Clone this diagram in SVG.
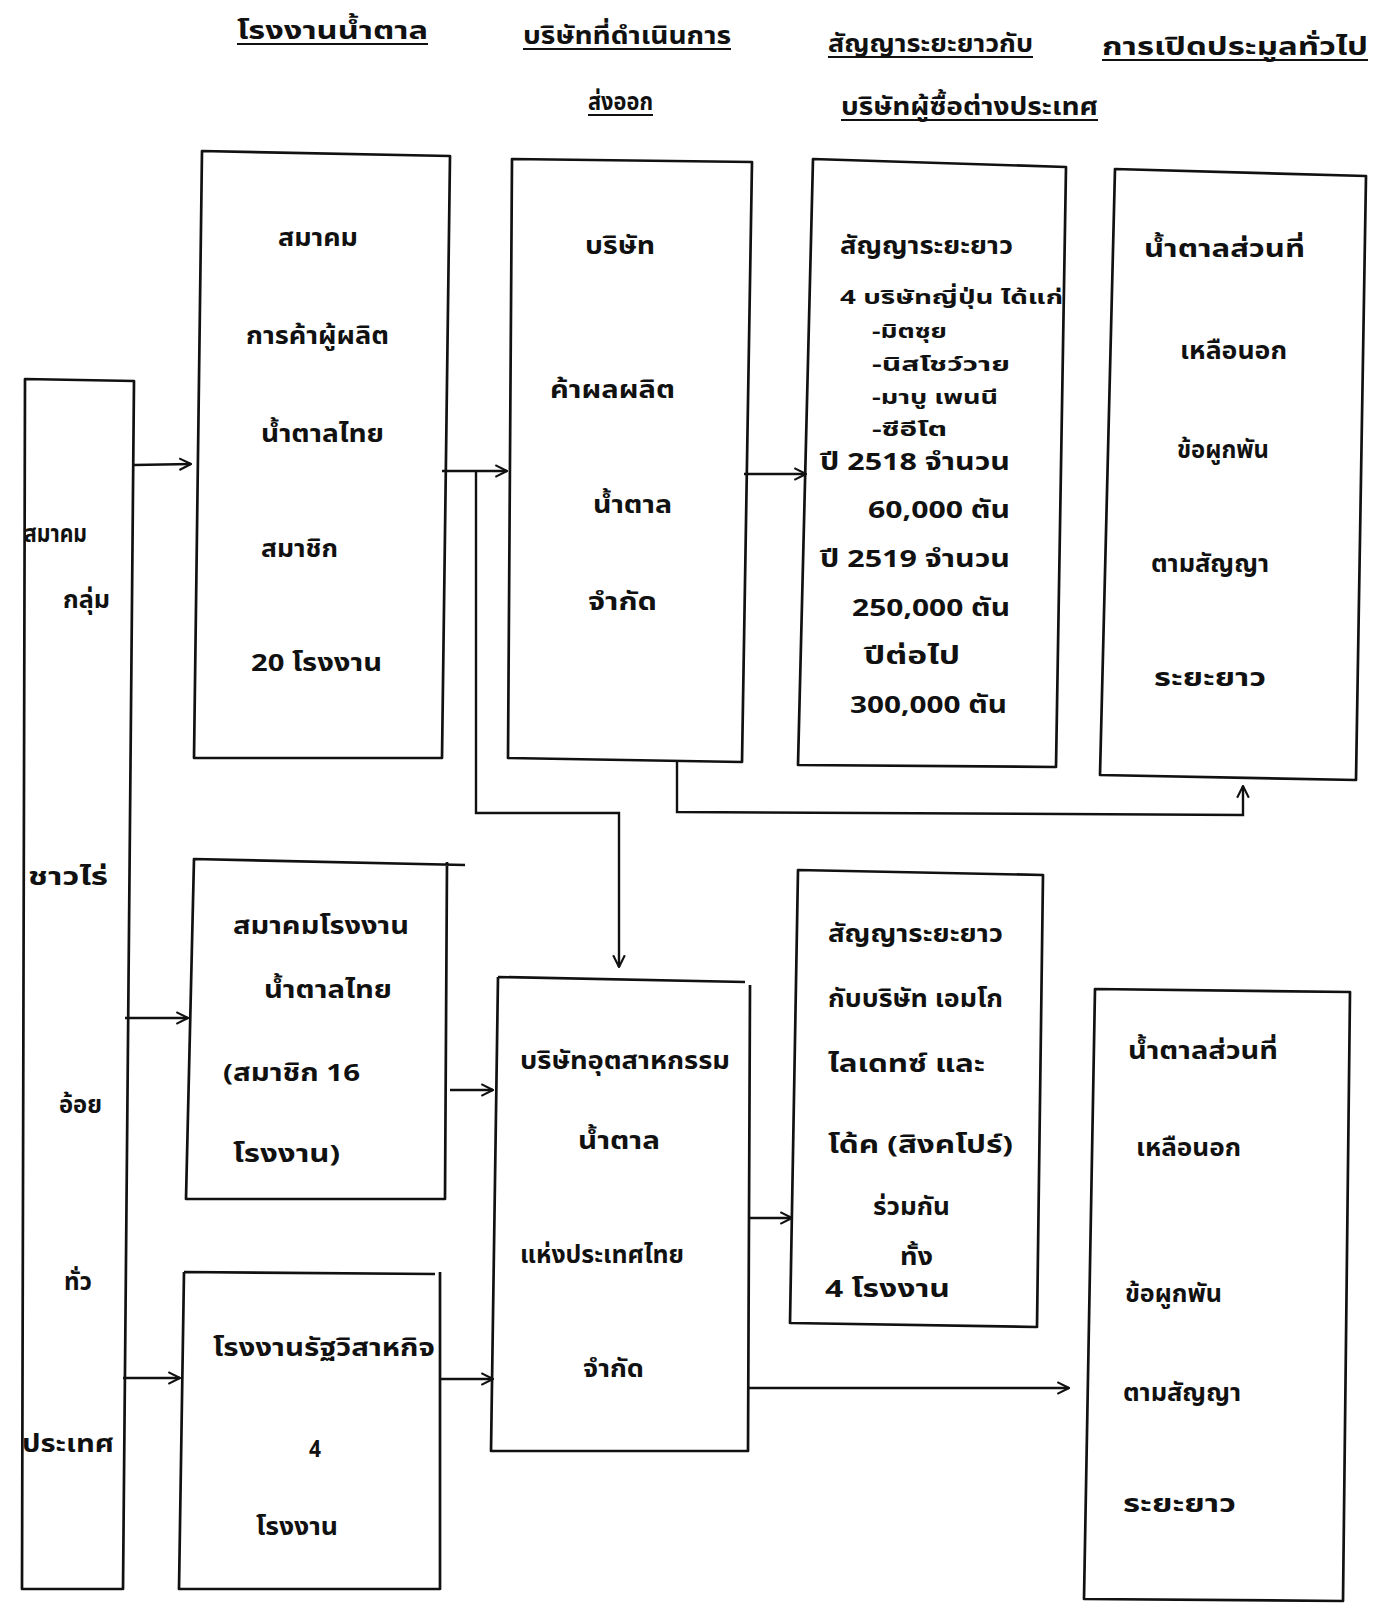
<svg xmlns="http://www.w3.org/2000/svg" width="1375" height="1604" viewBox="0 0 1375 1604">
<style>
.box{fill:none;stroke:#111;stroke-width:2.7;stroke-linejoin:round}
.ln{fill:none;stroke:#111;stroke-width:2.4}
.t{font-family:"Noto Sans Thai","Noto Sans","DejaVu Sans",sans-serif;font-size:24px;font-weight:bold;fill:#111}
.s{font-size:20px}
.h{font-family:"Noto Sans Thai","Noto Sans","DejaVu Sans",sans-serif;font-size:25px;font-weight:bold;fill:#111}
.u{stroke:#111;stroke-width:2.2}
</style>
<defs>
<marker id="arr" viewBox="0 0 12 12" refX="11" refY="6" markerWidth="14" markerHeight="14" markerUnits="userSpaceOnUse" orient="auto">
<path d="M1,1 L11,6 L1,11" fill="none" stroke="#111" stroke-width="1.8"/>
</marker>
</defs>
<rect width="1375" height="1604" fill="#fff"/>

<g id="headers">
<text class="h" x="237" y="39" textLength="191" lengthAdjust="spacingAndGlyphs">โรงงานน้ำตาล</text>
<line class="u" x1="237" y1="44" x2="428" y2="44"/>
<text class="h" x="523" y="44" textLength="208" lengthAdjust="spacingAndGlyphs">บริษัทที่ดำเนินการ</text>
<line class="u" x1="523" y1="49" x2="731" y2="49"/>
<text class="h" x="588" y="110" textLength="65" lengthAdjust="spacingAndGlyphs">ส่งออก</text>
<line class="u" x1="588" y1="115" x2="653" y2="115"/>
<text class="h" x="828" y="52" textLength="205" lengthAdjust="spacingAndGlyphs">สัญญาระยะยาวกับ</text>
<line class="u" x1="828" y1="57" x2="1033" y2="57"/>
<text class="h" x="841" y="115" textLength="257" lengthAdjust="spacingAndGlyphs">บริษัทผู้ซื้อต่างประเทศ</text>
<line class="u" x1="841" y1="120" x2="1098" y2="120"/>
<text class="h" x="1102" y="55" textLength="266" lengthAdjust="spacingAndGlyphs">การเปิดประมูลทั่วไป</text>
<line class="u" x1="1102" y1="60" x2="1368" y2="60"/>
</g>

<g id="node-farmers">
<path class="box" d="M25,379 L134,381 L123,1589 L22,1589 Z"/>
<text class="t" x="24" y="542" textLength="63" lengthAdjust="spacingAndGlyphs">สมาคม</text>
<text class="t" x="63" y="608" textLength="47" lengthAdjust="spacingAndGlyphs">กลุ่ม</text>
<text class="t" x="28" y="885" textLength="80" lengthAdjust="spacingAndGlyphs">ชาวไร่</text>
<text class="t" x="59" y="1113" textLength="43" lengthAdjust="spacingAndGlyphs">อ้อย</text>
<text class="t" x="64" y="1290" textLength="28" lengthAdjust="spacingAndGlyphs">ทั่ว</text>
<text class="t" x="22" y="1452" textLength="92" lengthAdjust="spacingAndGlyphs">ประเทศ</text>
</g>

<g id="node-trade-assoc">
<path class="box" d="M202,151 L450,156 L442,758 L194,758 Z"/>
<text class="t" x="278" y="246" textLength="80" lengthAdjust="spacingAndGlyphs">สมาคม</text>
<text class="t" x="246" y="344" textLength="143" lengthAdjust="spacingAndGlyphs">การค้าผู้ผลิต</text>
<text class="t" x="261" y="442" textLength="123" lengthAdjust="spacingAndGlyphs">น้ำตาลไทย</text>
<text class="t" x="261" y="557" textLength="77" lengthAdjust="spacingAndGlyphs">สมาชิก</text>
<text class="t" x="251" y="671" textLength="131" lengthAdjust="spacingAndGlyphs">20 โรงงาน</text>
</g>

<g id="node-trading-co">
<path class="box" d="M512,159 L752,162 L742,762 L508,758 Z"/>
<text class="t" x="585" y="254" textLength="70" lengthAdjust="spacingAndGlyphs">บริษัท</text>
<text class="t" x="550" y="398" textLength="125" lengthAdjust="spacingAndGlyphs">ค้าผลผลิต</text>
<text class="t" x="593" y="513" textLength="79" lengthAdjust="spacingAndGlyphs">น้ำตาล</text>
<text class="t" x="588" y="610" textLength="69" lengthAdjust="spacingAndGlyphs">จำกัด</text>
</g>

<g id="node-japan-contract">
<path class="box" d="M813,159 L1066,167 L1056,767 L798,765 Z"/>
<text class="t" x="840" y="254" textLength="173" lengthAdjust="spacingAndGlyphs">สัญญาระยะยาว</text>
<text class="t s" x="840" y="304" textLength="223" lengthAdjust="spacingAndGlyphs">4 บริษัทญี่ปุ่น ได้แก่</text>
<text class="t s" x="872" y="338" textLength="75" lengthAdjust="spacingAndGlyphs">-มิตซุย</text>
<text class="t s" x="872" y="371" textLength="138" lengthAdjust="spacingAndGlyphs">-นิสโชว์วาย</text>
<text class="t s" x="872" y="404" textLength="126" lengthAdjust="spacingAndGlyphs">-มาบู เพนนี</text>
<text class="t s" x="872" y="436" textLength="75" lengthAdjust="spacingAndGlyphs">-ซีอีโต</text>
<text class="t" x="820" y="470" textLength="190" lengthAdjust="spacingAndGlyphs">ปี 2518 จำนวน</text>
<text class="t" x="868" y="518" textLength="142" lengthAdjust="spacingAndGlyphs">60,000 ตัน</text>
<text class="t" x="820" y="567" textLength="190" lengthAdjust="spacingAndGlyphs">ปี 2519 จำนวน</text>
<text class="t" x="852" y="616" textLength="158" lengthAdjust="spacingAndGlyphs">250,000 ตัน</text>
<text class="t" x="864" y="664" textLength="96" lengthAdjust="spacingAndGlyphs">ปีต่อไป</text>
<text class="t" x="850" y="713" textLength="157" lengthAdjust="spacingAndGlyphs">300,000 ตัน</text>
</g>

<g id="node-open-bid-top">
<path class="box" d="M1115,169 L1366,176 L1356,780 L1100,775 Z"/>
<text class="t" x="1144" y="257" textLength="161" lengthAdjust="spacingAndGlyphs">น้ำตาลส่วนที่</text>
<text class="t" x="1180" y="359" textLength="107" lengthAdjust="spacingAndGlyphs">เหลือนอก</text>
<text class="t" x="1177" y="458" textLength="92" lengthAdjust="spacingAndGlyphs">ข้อผูกพัน</text>
<text class="t" x="1151" y="572" textLength="118" lengthAdjust="spacingAndGlyphs">ตามสัญญา</text>
<text class="t" x="1154" y="686" textLength="112" lengthAdjust="spacingAndGlyphs">ระยะยาว</text>
</g>

<g id="node-mill-assoc">
<path class="box" d="M465,865 L194,859 L186,1199 L445,1199 L447,862"/>
<text class="t" x="233" y="934" textLength="176" lengthAdjust="spacingAndGlyphs">สมาคมโรงงาน</text>
<text class="t" x="264" y="998" textLength="128" lengthAdjust="spacingAndGlyphs">น้ำตาลไทย</text>
<text class="t" x="223" y="1081" textLength="137" lengthAdjust="spacingAndGlyphs">(สมาชิก 16</text>
<text class="t" x="233" y="1162" textLength="107" lengthAdjust="spacingAndGlyphs">โรงงาน)</text>
</g>

<g id="node-state-mills">
<path class="box" d="M184,1272 L435,1274 M440,1272 L440,1589 L179,1589 L184,1272"/>
<text class="t" x="213" y="1356" textLength="222" lengthAdjust="spacingAndGlyphs">โรงงานรัฐวิสาหกิจ</text>
<text class="t" x="309" y="1457" textLength="12" lengthAdjust="spacingAndGlyphs">4</text>
<text class="t" x="256" y="1535" textLength="82" lengthAdjust="spacingAndGlyphs">โรงงาน</text>
</g>

<g id="node-thai-sugar-co">
<path class="box" d="M498,977 L745,982 M750,985 L748,1451 L491,1451 L498,977"/>
<text class="t" x="520" y="1069" textLength="210" lengthAdjust="spacingAndGlyphs">บริษัทอุตสาหกรรม</text>
<text class="t" x="578" y="1149" textLength="82" lengthAdjust="spacingAndGlyphs">น้ำตาล</text>
<text class="t" x="520" y="1263" textLength="164" lengthAdjust="spacingAndGlyphs">แห่งประเทศไทย</text>
<text class="t" x="583" y="1377" textLength="61" lengthAdjust="spacingAndGlyphs">จำกัด</text>
</g>

<g id="node-singapore-contract">
<path class="box" d="M798,870 L1043,875 L1037,1327 L790,1323 Z"/>
<text class="t" x="828" y="942" textLength="175" lengthAdjust="spacingAndGlyphs">สัญญาระยะยาว</text>
<text class="t" x="828" y="1007" textLength="175" lengthAdjust="spacingAndGlyphs">กับบริษัท เอมโก</text>
<text class="t" x="828" y="1072" textLength="157" lengthAdjust="spacingAndGlyphs">ไลเดทซ์ และ</text>
<text class="t" x="828" y="1153" textLength="185" lengthAdjust="spacingAndGlyphs">โด้ค (สิงคโปร์)</text>
<text class="t" x="873" y="1215" textLength="77" lengthAdjust="spacingAndGlyphs">ร่วมกัน</text>
<text class="t" x="900" y="1265" textLength="33" lengthAdjust="spacingAndGlyphs">ทั้ง</text>
<text class="t" x="825" y="1297" textLength="125" lengthAdjust="spacingAndGlyphs">4 โรงงาน</text>
</g>

<g id="node-open-bid-bottom">
<path class="box" d="M1095,989 L1350,992 L1343,1601 L1084,1599 Z"/>
<text class="t" x="1128" y="1059" textLength="150" lengthAdjust="spacingAndGlyphs">น้ำตาลส่วนที่</text>
<text class="t" x="1136" y="1156" textLength="105" lengthAdjust="spacingAndGlyphs">เหลือนอก</text>
<text class="t" x="1125" y="1302" textLength="97" lengthAdjust="spacingAndGlyphs">ข้อผูกพัน</text>
<text class="t" x="1123" y="1401" textLength="118" lengthAdjust="spacingAndGlyphs">ตามสัญญา</text>
<text class="t" x="1123" y="1512" textLength="113" lengthAdjust="spacingAndGlyphs">ระยะยาว</text>
</g>

<g id="connectors">
<path class="ln" d="M134,465 L191,464" marker-end="url(#arr)"/>
<path class="ln" d="M442,471 L507,471" marker-end="url(#arr)"/>
<path class="ln" d="M476,472 L476,813 L619,813 L619,967" marker-end="url(#arr)"/>
<path class="ln" d="M744,474 L806,474" marker-end="url(#arr)"/>
<path class="ln" d="M677,762 L677,812 L1243,815 L1243,786" marker-end="url(#arr)"/>
<path class="ln" d="M125,1018 L188,1018" marker-end="url(#arr)"/>
<path class="ln" d="M450,1090 L493,1090" marker-end="url(#arr)"/>
<path class="ln" d="M123,1378 L180,1378" marker-end="url(#arr)"/>
<path class="ln" d="M440,1379 L493,1379" marker-end="url(#arr)"/>
<path class="ln" d="M749,1218 L792,1218" marker-end="url(#arr)"/>
<path class="ln" d="M749,1388 L1069,1388" marker-end="url(#arr)"/>
</g>
</svg>
